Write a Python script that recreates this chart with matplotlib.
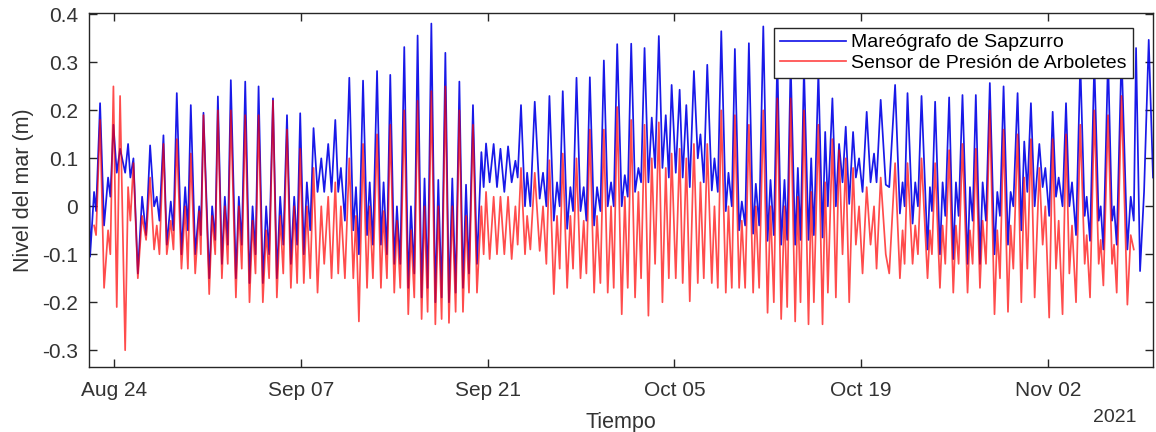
import numpy as np
import pandas as pd
import matplotlib
matplotlib.use("Agg")
import matplotlib.pyplot as plt
import matplotlib.dates as mdates

plt.rcParams['font.family'] = ['Liberation Sans', 'DejaVu Sans']

# days since 2021-08-22 00:00 of each turning point
days = [
    0.12, 0.20, 0.50, 0.65,
    0.95, 1.25, 1.55, 1.72,
    1.95, 2.20, 2.45, 2.83,
    3.05, 3.22,
    3.45, 3.78, 4.10, 4.40,
    4.70, 5.00, 5.20, 5.40,
    5.70, 5.95, 6.25, 6.45,
    6.70, 7.05, 7.33, 7.53,
    7.75, 8.08, 8.38, 8.50,
    8.70, 9.13, 9.35, 9.58,
    9.78, 10.08, 10.30, 10.52,
    10.75, 11.13, 11.35, 11.57,
    11.83, 12.15, 12.38, 12.60,
    12.83, 13.15, 13.40, 13.62,
    13.91, 14.20, 14.45, 14.68,
    14.96, 15.25, 15.50, 15.72,
    15.95, 16.22, 16.45, 16.70,
    16.95, 17.25, 17.53, 17.75,
    18.05, 18.30, 18.58, 18.80,
    19.00, 19.30,
    19.63, 19.93, 20.13, 20.35,
    20.66, 20.96, 21.16, 21.40,
    21.71, 22.00, 22.20, 22.45,
    22.70, 23.00, 23.20, 23.45,
    23.75, 24.05, 24.25, 24.50,
    24.75, 25.05, 25.27, 25.50,
    25.78, 26.08, 26.30, 26.55,
    26.83, 27.10, 27.35, 27.60,
    27.88, 28.15, 28.38, 28.60,
    28.90, 29.20,
    29.53, 29.70, 29.88, 30.15,
    30.45, 30.70, 30.96, 31.25,
    31.53, 31.80, 32.08, 32.25,
    32.50, 32.80, 32.96, 33.20,
    33.53, 33.90, 34.15, 34.40,
    34.63, 34.96, 35.20, 35.40,
    35.63, 35.96, 36.20, 36.40,
    36.66, 36.96, 37.20, 37.40,
    37.66, 37.98, 38.20, 38.45,
    38.71, 39.00, 39.25, 39.45,
    39.71, 40.05, 40.28, 40.50,
    40.76, 41.05, 41.30, 41.50,
    41.76, 42.05, 42.30, 42.55,
    42.83, 43.10, 43.35, 43.58,
    43.79, 44.10, 44.39, 44.62,
    44.89, 45.15,
    45.46, 45.75, 45.95, 46.20,
    46.46, 46.80, 47.00, 47.25,
    47.51, 47.85, 48.05, 48.30,
    48.53, 48.85, 49.05, 49.30,
    49.58, 49.90, 50.10, 50.35,
    50.66, 50.98, 51.20, 51.45,
    51.71, 52.00, 52.25, 52.45,
    52.71, 53.05, 53.25, 53.45,
    53.71, 54.05, 54.25, 54.45,
    54.79, 55.10, 55.30, 55.50,
    55.84, 56.10, 56.34, 56.60,
    56.84, 57.10, 57.39, 57.60,
    57.84, 58.10, 58.41, 58.70,
    58.96, 59.15, 59.46, 59.84,
    60.10, 60.54, 60.90, 61.10, 61.25,
    61.47, 61.85, 62.05, 62.25,
    62.52, 62.97, 63.15, 63.30,
    63.54, 63.90, 64.10, 64.30,
    64.59, 64.90, 65.10, 65.30,
    65.59, 65.97, 66.15, 66.35,
    66.59, 66.90, 67.10, 67.35,
    67.64, 67.99, 68.20, 68.40,
    68.67, 69.00, 69.20, 69.40,
    69.72, 70.00, 70.22, 70.45,
    70.72, 71.00, 71.35, 71.60,
    71.80, 72.09,
    72.35, 72.60, 72.80, 73.09,
    73.35, 73.60, 73.80, 74.10,
    74.42, 74.75, 74.90, 75.15,
    75.47, 75.80, 75.95, 76.15,
    76.50, 76.80, 76.95, 77.15,
    77.51, 77.95, 78.20, 78.43,
    78.60, 78.90, 79.20, 79.55, 79.87,
]

# Mareógrafo de Sapzurro (m)
sapzurro = [
    0.13, -0.105, 0.03, -0.01,
    0.215, -0.04, 0.06, 0.02,
    0.17, 0.07, 0.12, 0.07,
    0.13, 0.06,
    0.10, -0.14, 0.02, -0.06,
    0.127, 0.00, 0.02, -0.03,
    0.148, -0.08, 0.01, -0.05,
    0.236, -0.10, 0.04, -0.05,
    0.211, -0.10, 0.00, -0.06,
    0.195, -0.15, 0.00, -0.07,
    0.229, -0.12, 0.02, -0.08,
    0.263, -0.15, 0.02, -0.08,
    0.26, -0.16, 0.00, -0.10,
    0.25, -0.16, 0.00, -0.10,
    0.225, -0.15, 0.02, -0.08,
    0.19, -0.12, 0.02, -0.08,
    0.194, -0.10, 0.05, -0.05,
    0.163, 0.03, 0.10, 0.03,
    0.13, 0.03, 0.18, 0.03,
    0.08, -0.03,
    0.268, -0.05, 0.04, -0.10,
    0.262, -0.06, 0.05, -0.08,
    0.282, -0.08, 0.05, -0.10,
    0.274, -0.12, 0.00, -0.12,
    0.332, -0.17, 0.00, -0.14,
    0.356, -0.19, 0.058, -0.17,
    0.381, -0.20, 0.055, -0.19,
    0.32, -0.20, 0.058, -0.18,
    0.26, -0.17, 0.045, -0.14,
    0.211, -0.12,
    0.113, 0.04, 0.131, 0.05,
    0.13, 0.04, 0.12, 0.03,
    0.125, 0.05, 0.095, 0.06,
    0.211, 0.00, 0.07, 0.00,
    0.218, 0.016, 0.07, 0.00,
    0.23, -0.03, 0.05, 0.00,
    0.24, -0.047, 0.04, -0.01,
    0.268, -0.01, 0.04, -0.03,
    0.269, -0.04, 0.04, -0.01,
    0.304, 0.00, 0.05, 0.00,
    0.338, 0.00, 0.065, 0.02,
    0.339, 0.03, 0.08, 0.05,
    0.33, 0.05, 0.185, 0.08,
    0.355, 0.08, 0.19, 0.06,
    0.253, 0.07, 0.243, 0.06,
    0.211, 0.04,
    0.282, 0.10, 0.15, 0.05,
    0.295, 0.033, 0.10, 0.03,
    0.365, -0.01, 0.07, 0.00,
    0.328, -0.05, 0.01, -0.04,
    0.34, -0.057, 0.047, -0.04,
    0.375, -0.072, 0.055, -0.06,
    0.31, -0.08, 0.055, -0.07,
    0.30, -0.08, 0.08, -0.07,
    0.29, -0.07, 0.10, -0.06,
    0.28, -0.065, 0.155, 0.00,
    0.225, 0.00, 0.13, 0.05,
    0.166, 0.005, 0.155, 0.06,
    0.10, 0.03, 0.197, 0.05,
    0.11, 0.05, 0.222, 0.045,
    0.04, 0.253, -0.015, 0.05, 0.00,
    0.236, -0.036, 0.05, 0.00,
    0.23, -0.09, 0.04, -0.01,
    0.218, -0.10, 0.05, -0.02,
    0.227, -0.11, 0.05, -0.02,
    0.232, -0.12, 0.04, -0.03,
    0.232, -0.12, 0.05, -0.03,
    0.257, -0.10, 0.03, -0.02,
    0.25, -0.08, 0.03, 0.00,
    0.236, -0.05, 0.135, 0.03,
    0.215, 0.00, 0.13, 0.04,
    0.08, -0.02,
    0.197, 0.02, 0.06, 0.00,
    0.215, 0.00, 0.05, -0.06,
    0.30, -0.02, 0.02, -0.072,
    0.30, -0.03, 0.00, -0.09,
    0.31, -0.03, 0.00, -0.08,
    0.32, -0.09, 0.02, -0.03,
    0.33, -0.135, 0.03, 0.347, 0.06,
]

# Sensor de Presión de Arboletes (m), nan where it has no record
nan = np.nan
arboletes = [
    nan, nan, -0.04, -0.06,
    0.18, -0.17, -0.05, -0.10,
    0.25, -0.21, 0.23, -0.30,
    0.04, -0.03,
    0.09, -0.15, -0.02, -0.07,
    0.06, -0.09, -0.04, -0.10,
    0.13, -0.10, -0.03, -0.09,
    0.14, -0.13, 0.00, -0.13,
    0.11, -0.14, -0.01, -0.10,
    0.19, -0.183, -0.02, -0.10,
    0.20, -0.15, 0.00, -0.12,
    0.20, -0.19, 0.00, -0.13,
    0.19, -0.20, -0.03, -0.14,
    0.19, -0.20, -0.05, -0.15,
    0.22, -0.19, -0.02, -0.14,
    0.16, -0.17, 0.00, -0.16,
    0.12, -0.16, 0.00, -0.15,
    0.08, -0.18, 0.00, -0.12,
    0.02, -0.15, 0.05, -0.14,
    0.00, -0.15,
    0.10, -0.15, -0.02, -0.24,
    0.13, -0.17, 0.00, -0.15,
    0.15, -0.17, -0.01, -0.15,
    0.17, -0.18, -0.03, -0.17,
    0.20, -0.225, -0.05, -0.19,
    0.22, -0.235, 0.00, -0.22,
    0.24, -0.246, 0.00, -0.235,
    0.25, -0.243, 0.00, -0.22,
    0.20, -0.22, -0.02, -0.18,
    0.17, -0.18,
    0.00, -0.10, 0.03, -0.11,
    0.02, -0.10, 0.02, -0.10,
    0.02, -0.11, 0.00, -0.08,
    0.08, -0.10, -0.02, -0.09,
    0.07, -0.093, 0.00, -0.12,
    0.096, -0.183, -0.02, -0.13,
    0.11, -0.17, -0.02, -0.13,
    0.10, -0.15, -0.03, -0.14,
    0.16, -0.18, -0.02, -0.16,
    0.16, -0.18, 0.00, -0.17,
    0.207, -0.225, 0.02, -0.17,
    0.18, -0.19, 0.03, -0.15,
    0.17, -0.228, 0.10, -0.12,
    0.175, -0.20, 0.08, -0.15,
    0.11, -0.15, 0.12, -0.16,
    0.10, -0.198,
    0.13, -0.16, 0.05, -0.15,
    0.13, -0.16, 0.00, -0.17,
    0.20, -0.18, 0.00, -0.17,
    0.19, -0.17, -0.03, -0.17,
    0.17, -0.18, 0.00, -0.17,
    0.20, -0.222, 0.00, -0.20,
    0.225, -0.235, 0.00, -0.21,
    0.225, -0.24, 0.02, -0.20,
    0.20, -0.246, 0.03, -0.20,
    0.17, -0.246, 0.05, -0.18,
    0.14, -0.19, 0.117, -0.10,
    0.10, -0.20, 0.08, -0.08,
    0.00, -0.14, 0.04, -0.08,
    0.00, -0.13, 0.06, -0.10,
    -0.14, 0.09, -0.15, -0.05, -0.12,
    0.09, -0.12, -0.04, -0.10,
    0.10, -0.15, -0.05, -0.10,
    0.09, -0.17, -0.04, -0.12,
    0.117, -0.18, -0.04, -0.12,
    0.13, -0.18, -0.05, -0.12,
    0.12, -0.17, -0.03, -0.12,
    0.20, -0.225, -0.05, -0.15,
    0.16, -0.22, -0.04, -0.13,
    0.15, -0.20, 0.06, -0.13,
    0.14, -0.19, 0.08, -0.08,
    0.00, -0.232,
    0.14, -0.13, -0.03, -0.225,
    0.15, -0.14, -0.04, -0.20,
    0.17, -0.12, -0.06, -0.19,
    0.20, -0.12, -0.07, -0.165,
    0.19, -0.12, -0.08, -0.18,
    0.23, -0.205, -0.06, -0.09,
    nan, nan, nan, nan, nan,
]

tick_dates = ['2021-08-24', '2021-09-07', '2021-09-21',
              '2021-10-05', '2021-10-19', '2021-11-02']
y_ticks = [-0.3, -0.2, -0.1, 0, 0.1, 0.2, 0.3, 0.4]
y_labels = ['-0.3', '-0.2', '-0.1', '0', '0.1', '0.2', '0.3', '0.4']

assert len(days) == len(sapzurro) == len(arboletes)

t = pd.Timestamp('2021-08-22') + pd.to_timedelta(np.array(days), unit='D')

fig = plt.figure(figsize=(11.56, 4.32), dpi=100)
ax = fig.add_axes([89 / 1156, 1 - 367 / 432, 1064 / 1156, 354 / 432])

ax.plot(t, sapzurro, color='#0000e6', lw=1.25, alpha=0.9,
        label='Mareógrafo de Sapzurro')
ax.plot(t, arboletes, color='#ff0000', lw=1.25, alpha=0.7,
        label='Sensor de Presión de Arboletes')

ax.set_xlim(t[0], t[-1])
ax.set_ylim(-0.335, 0.403)
ax.set_xticks(pd.to_datetime(tick_dates))
ax.xaxis.set_major_formatter(mdates.DateFormatter('%b %d'))
ax.set_yticks(y_ticks)
ax.set_yticklabels(y_labels)

gray = '#262626'
for s in ax.spines.values():
    s.set_color(gray)
    s.set_linewidth(1.0)
ax.tick_params(direction='in', top=True, right=True, length=5.5, width=1.0,
               colors=gray, labelsize=15, labelcolor='#333333')
ax.tick_params(axis='x', pad=10)
ax.tick_params(axis='y', pad=8)

ax.set_xlabel('Tiempo', fontsize=15.5, color='#333333', labelpad=9)
ax.set_ylabel('Nivel del mar (m)', fontsize=15.5, color='#333333', labelpad=6)
fig.text(1137 / 1156, 1 - 417 / 432, '2021', ha='right', va='center',
         fontsize=14, color='#333333')

leg = ax.legend(loc='upper right', bbox_to_anchor=(0.981, 0.958),
                borderaxespad=0, fancybox=False, framealpha=1,
                edgecolor='#262626', fontsize=14, handlelength=3.4,
                handletextpad=0.3, labelspacing=0.15, borderpad=0.3)
leg.get_frame().set_linewidth(1.0)

fig.savefig('out.png', dpi=100)
